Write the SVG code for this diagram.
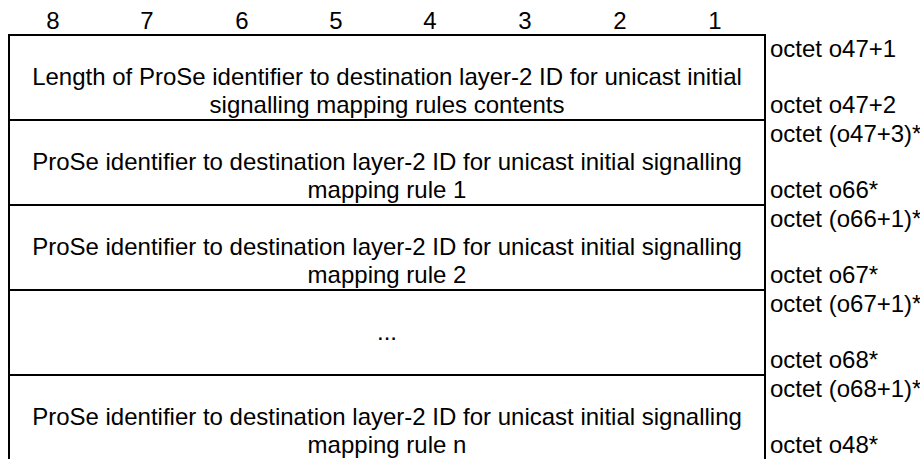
<svg xmlns="http://www.w3.org/2000/svg" width="920" height="459" viewBox="0 0 920 459">
<style>
  text { font-family: "Liberation Sans", Arial, sans-serif; fill: #000; }
  .hdr { font-size: 24px; text-anchor: middle; }
  .body { font-size: 24px; text-anchor: middle; }
  .lbl { font-size: 24px; }
  .ln { stroke: #000; stroke-width: 2; fill: none; }
</style>
<rect width="920" height="459" fill="#fff"/>
<g id="header">
  <text class="hdr" x="53" y="29">8</text>
  <text class="hdr" x="147" y="29">7</text>
  <text class="hdr" x="242" y="29">6</text>
  <text class="hdr" x="336" y="29">5</text>
  <text class="hdr" x="430" y="29">4</text>
  <text class="hdr" x="525" y="29">3</text>
  <text class="hdr" x="620" y="29">2</text>
  <text class="hdr" x="715" y="29">1</text>
</g>
<g id="connectors">
  <line class="ln" x1="9" y1="35" x2="9" y2="459"/>
  <line class="ln" x1="765" y1="34" x2="765" y2="459"/>
  <line class="ln" x1="8" y1="35" x2="766" y2="35"/>
  <line class="ln" x1="8" y1="120" x2="766" y2="120"/>
  <line class="ln" x1="8" y1="205" x2="766" y2="205"/>
  <line class="ln" x1="8" y1="290" x2="766" y2="290"/>
  <line class="ln" x1="8" y1="375" x2="766" y2="375"/>
</g>
<g id="row1">
  <text class="body" x="387" y="85">Length of ProSe identifier to destination layer-2 ID for unicast initial</text>
  <text class="body" x="387" y="113">signalling mapping rules contents</text>
  <text class="lbl" x="770" y="57">octet o47+1</text>
  <text class="lbl" x="770" y="113">octet o47+2</text>
</g>
<g id="row2">
  <text class="body" x="387" y="170">ProSe identifier to destination layer-2 ID for unicast initial signalling</text>
  <text class="body" x="387" y="198">mapping rule 1</text>
  <text class="lbl" x="770" y="142">octet (o47+3)*</text>
  <text class="lbl" x="770" y="198">octet o66*</text>
</g>
<g id="row3">
  <text class="body" x="387" y="255">ProSe identifier to destination layer-2 ID for unicast initial signalling</text>
  <text class="body" x="387" y="283">mapping rule 2</text>
  <text class="lbl" x="770" y="227">octet (o66+1)*</text>
  <text class="lbl" x="770" y="283">octet o67*</text>
</g>
<g id="row4">
  <text class="body" x="387" y="340">...</text>
  <text class="lbl" x="770" y="312">octet (o67+1)*</text>
  <text class="lbl" x="770" y="368">octet o68*</text>
</g>
<g id="row5">
  <text class="body" x="387" y="425">ProSe identifier to destination layer-2 ID for unicast initial signalling</text>
  <text class="body" x="387" y="453">mapping rule n</text>
  <text class="lbl" x="770" y="397">octet (o68+1)*</text>
  <text class="lbl" x="770" y="453">octet o48*</text>
</g>
</svg>
